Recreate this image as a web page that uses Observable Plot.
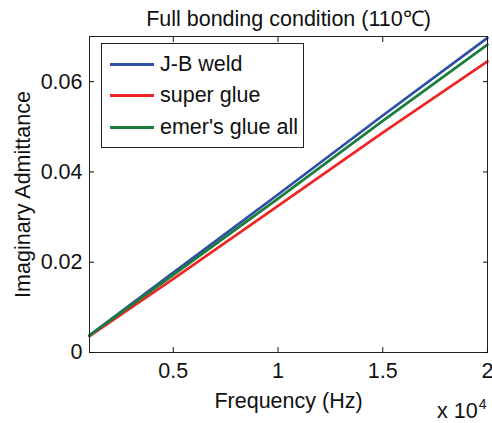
<!DOCTYPE html>
<html>
<head>
<meta charset="utf-8">
<script src="https://cdn.jsdelivr.net/npm/d3@7"></script>
<script src="https://cdn.jsdelivr.net/npm/@observablehq/plot@0.6"></script>
<style>
  html, body { margin: 0; padding: 0; background: #fff; }
  #wrap { position: relative; width: 492px; height: 423px; overflow: hidden; font-family: "Liberation Sans", Arial, sans-serif; color: #111; }
  #legend { position: absolute; left: 101px; top: 43px; width: 203px; height: 105px; border: 1px solid #222; background: #fff; box-sizing: border-box; }
  .row { position: absolute; left: 0; height: 32px; display: flex; align-items: center; font-size: 21.5px; white-space: nowrap; }
  .swatch { display: inline-block; width: 44px; height: 3px; margin-left: 8px; margin-right: 6px; }
  #exp { position: absolute; left: 437px; top: 400px; font-size: 21.5px; line-height: 22px; white-space: nowrap; }
  #exp sup { font-size: 14px; line-height: 0; position: relative; top: -1px; margin-left: 1px; }
</style>
</head>
<body>
<div id="wrap"></div>
<script>
const freq = [1000, 5000, 10000, 15000, 20000];
const seriesNames = ["J-B weld", "super glue", "emer's glue all"];
const seriesColors = ["#2d4fa6", "#ef2525", "#1a7d3c"];
const jbWeld = [0.0038, 0.0177, 0.0350, 0.0525, 0.0697];
const superGlue = [0.0036, 0.0163, 0.0325, 0.0487, 0.0645];
const emersGlue = [0.0038, 0.0172, 0.0341, 0.0513, 0.0682];
const xTicks = [5000, 10000, 15000, 20000];
const yTicks = [0, 0.02, 0.04, 0.06];
const title = "Full bonding condition (110\u2103)";

const seriesValues = [jbWeld, superGlue, emersGlue];
const data = [];
seriesNames.forEach((name, i) => {
  freq.forEach((f, j) => data.push({series: name, freq: f, value: seriesValues[i][j]}));
});

const chart = Plot.plot({
  width: 492,
  height: 423,
  marginLeft: 89,
  marginRight: 5,
  marginTop: 36,
  marginBottom: 71,
  style: {fontFamily: "Liberation Sans, Arial, sans-serif", fontSize: "21.5px", color: "#111", background: "#fff"},
  x: {domain: [1000, 20000]},
  y: {domain: [0, 0.07]},
  color: {domain: seriesNames, range: seriesColors},
  marks: [
    Plot.line(data, {x: "freq", y: "value", z: "series", stroke: "series", strokeWidth: 2.7}),
    Plot.frame({stroke: "#222", strokeWidth: 1}),
    Plot.axisX({anchor: "bottom", ticks: xTicks, tickSize: -5, tickPadding: 15,
      tickFormat: d => String(d / 1e4), label: "Frequency (Hz)", labelAnchor: "center", labelArrow: "none", labelOffset: 55}),
    Plot.axisX({anchor: "top", ticks: xTicks, tickSize: -5, fill: "none"}),
    Plot.axisY({anchor: "left", ticks: yTicks, tickSize: -5, tickPadding: 12,
      tickFormat: d => d === 0 ? "0" : d.toFixed(2), label: "Imaginary Admittance", labelAnchor: "center", labelArrow: "none", labelOffset: 75}),
    Plot.axisY({anchor: "right", ticks: yTicks, tickSize: -5, fill: "none"}),
    Plot.text([title], {frameAnchor: "top", dy: -11, lineAnchor: "bottom", text: d => d, fontSize: 21.5})
  ]
});

const wrap = document.getElementById("wrap");
wrap.appendChild(chart);

const legend = document.createElement("div");
legend.id = "legend";
seriesNames.forEach((name, i) => {
  const row = document.createElement("div");
  row.className = "row";
  row.style.top = (4 + i * 31.5) + "px";
  const sw = document.createElement("span");
  sw.className = "swatch";
  sw.style.background = seriesColors[i];
  const label = document.createElement("span");
  label.textContent = name;
  row.appendChild(sw);
  row.appendChild(label);
  legend.appendChild(row);
});
wrap.appendChild(legend);

const exp = document.createElement("div");
exp.id = "exp";
exp.innerHTML = "x 10<sup>4</sup>";
wrap.appendChild(exp);
</script>
</body>
</html>
